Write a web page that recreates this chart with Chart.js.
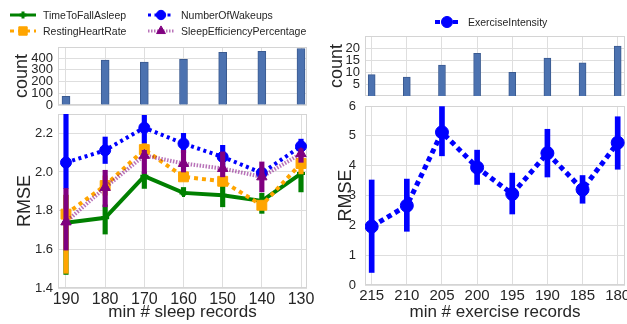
<!DOCTYPE html>
<html lang="en">
<head>
<meta charset="UTF-8">
<title>RMSE vs minimum number of records</title>
<script src="https://cdn.jsdelivr.net/npm/chart.js@4.4.1/dist/chart.umd.min.js"></script>
<style>
    html, body { margin: 0; padding: 0; background: #fff; }
    body {
        width: 627px;
        height: 324px;
        overflow: hidden;
        position: relative;
        font-family: 'Liberation Sans', Arial, sans-serif;
    }
    canvas.chart { position: absolute; }
    #sleepCount { left: 0; top: 0; }
    #sleepRmse { left: 0; top: 105px; }
    #exerciseCount { left: 320px; top: 0; }
    #exerciseRmse { left: 320px; top: 96px; }
    .key {
        position: absolute;
        height: 14px;
        display: flex;
        align-items: center;
        white-space: nowrap;
        font-size: 10.5px;
        color: #262626;
    }
    .key canvas { display: block; }
</style>
</head>
<body>
<canvas class="chart" id="sleepCount" width="320" height="115"></canvas>
<canvas class="chart" id="sleepRmse" width="320" height="219"></canvas>
<canvas class="chart" id="exerciseCount" width="320" height="100"></canvas>
<canvas class="chart" id="exerciseRmse" width="320" height="228"></canvas>
<div id="legends"></div>

<script>
// ---- sleep panel data ----
const sleepRecords = [190, 180, 170, 160, 150, 140, 130];
const sleepCounts = [75, 383, 366, 389, 449, 457, 482];
const sleepCountTicks = [0, 100, 200, 300, 400];
const sleepRmseTicks = [1.4, 1.6, 1.8, 2.0, 2.2];

const timeToFallAsleep     = [1.737, 1.763, 1.978, 1.892, 1.880, 1.850, 1.992];
const timeToFallAsleepLow  = [1.470, 1.679, 1.915, 1.880, 1.820, 1.786, 1.897];
const timeToFallAsleepHigh = [1.880, 1.830, 2.000, 1.920, 1.950, 1.890, 2.000];

const restingHeartRate     = [1.782, 1.930, 2.116, 1.975, 1.952, 1.828, 2.044];
const restingHeartRateLow  = [1.476, 1.880, 2.080, 1.955, 1.930, 1.810, 1.990];
const restingHeartRateHigh = [1.880, 1.980, 2.150, 1.995, 1.975, 1.845, 2.090];

const numberOfWakeups     = [2.049, 2.112, 2.229, 2.147, 2.078, 1.995, 2.133];
const numberOfWakeupsLow  = [1.915, 2.044, 2.150, 2.100, 2.020, 1.970, 2.100];
const numberOfWakeupsHigh = [2.350, 2.181, 2.293, 2.200, 2.138, 2.020, 2.170];

const sleepEfficiency     = [1.742, 1.920, 2.086, 2.044, 2.018, 1.975, 2.095];
const sleepEfficiencyLow  = [1.596, 1.820, 1.992, 2.000, 1.975, 1.897, 2.050];
const sleepEfficiencyHigh = [1.915, 2.009, 2.112, 2.112, 2.104, 2.052, 2.120];

// ---- exercise panel data ----
const exerciseRecords = [215, 210, 205, 200, 195, 190, 185, 180];
const exerciseCounts = [9, 8, 13, 18, 10, 16, 14, 21];
const exerciseCountTicks = [5, 10, 15, 20];
const exerciseRmseTicks = [0, 1, 2, 3, 4, 5, 6];

const exerciseIntensity     = [1.96, 2.66, 5.12, 3.94, 3.05, 4.42, 3.20, 4.77];
const exerciseIntensityLow  = [0.42, 1.80, 4.33, 3.37, 2.38, 3.62, 2.74, 3.88];
const exerciseIntensityHigh = [3.52, 3.55, 5.98, 4.52, 3.75, 5.22, 3.67, 5.64];

// ---- styles ----
Chart.defaults.font.family = "'Liberation Sans', Arial, sans-serif";
Chart.defaults.color = '#262626';

const gridColor = '#dedede';
const barFill = '#4c72b0';
const barEdge = '#3a5a90';

const styles = {
    TimeToFallAsleep:          { color: '#008000', line: '#008000', width: 4, dash: [], marker: 'cross', radius: 4 },
    RestingHeartRate:          { color: '#ffa500', line: '#ffa500', width: 4, dash: [4, 4], marker: 'rect', radius: 7 },
    NumberOfWakeups:           { color: '#0000ff', line: '#0000ff', width: 4, dash: [3, 3.5], marker: 'circle', radius: 5.5 },
    SleepEfficiencyPercentage: { color: '#800080', line: 'rgba(128,0,128,0.55)', width: 4, dash: [1.5, 1.5], marker: 'triangle', radius: 6 },
    ExerciseIntensity:         { color: '#0000ff', line: '#0000ff', width: 5, dash: [5, 4], marker: 'circle', radius: 6.5 }
};

const sleepSeries = [
    { name: 'TimeToFallAsleep', values: timeToFallAsleep, low: timeToFallAsleepLow, high: timeToFallAsleepHigh },
    { name: 'RestingHeartRate', values: restingHeartRate, low: restingHeartRateLow, high: restingHeartRateHigh },
    { name: 'NumberOfWakeups', values: numberOfWakeups, low: numberOfWakeupsLow, high: numberOfWakeupsHigh },
    { name: 'SleepEfficiencyPercentage', values: sleepEfficiency, low: sleepEfficiencyLow, high: sleepEfficiencyHigh }
];
const exerciseSeries = [
    { name: 'ExerciseIntensity', values: exerciseIntensity, low: exerciseIntensityLow, high: exerciseIntensityHigh }
];

// light box round every plot area
const framePlugin = {
    id: 'frame',
    beforeDatasetsDraw(chart) {
        const a = chart.chartArea, ctx = chart.ctx;
        ctx.save();
        ctx.strokeStyle = '#d4d4d4';
        ctx.lineWidth = 1;
        ctx.strokeRect(Math.round(a.left) + 0.5, Math.round(a.top) + 0.5, Math.round(a.width) - 1, Math.round(a.height) - 1);
        ctx.restore();
    }
};

function pinTicks(values) {
    return scale => { scale.ticks = values.map(v => ({ value: v })); };
}
function pinWidth(w) {
    return scale => { scale.width = w; scale.paddingTop = 0; scale.paddingBottom = 0; };
}
function pinHeight(h) {
    return scale => { scale.height = h; scale.paddingLeft = 0; scale.paddingRight = 0; };
}

function recordAxis(min, max, records, height, title, tickSize) {
    return {
        type: 'linear', min: min, max: max, reverse: true, offset: false,
        afterBuildTicks: pinTicks(records),
        afterFit: pinHeight(height),
        grid: { color: gridColor, drawTicks: false, offset: false },
        border: { display: false },
        ticks: { display: !!title, font: { size: tickSize }, padding: 2, maxRotation: 0, autoSkip: false, callback: v => String(v) },
        title: { display: !!title, text: title, font: { size: 17 }, padding: { top: 0, bottom: 1 } }
    };
}

function valueAxis(min, max, ticks, width, title, titlePad, tickPad, decimals) {
    return {
        min: min, max: max,
        afterBuildTicks: pinTicks(ticks),
        afterFit: pinWidth(width),
        grid: { color: gridColor, drawTicks: false },
        border: { display: false },
        ticks: { font: { size: 13 }, padding: tickPad, autoSkip: false, callback: v => v.toFixed(decimals) },
        title: { display: true, text: title, font: { size: 18 }, padding: { top: titlePad, bottom: 0 } }
    };
}

function baseOptions(padding) {
    return {
        responsive: false,
        animation: false,
        devicePixelRatio: 1,
        layout: { padding: padding },
        plugins: { legend: { display: false }, tooltip: { enabled: false } }
    };
}

function countChart(id, records, counts, xRange, yMax, ticks, padding, yWidth, titlePad, barWidth) {
    const options = baseOptions(padding);
    options.scales = {
        x: recordAxis(xRange[0], xRange[1], records, 0, '', 0),
        y: valueAxis(0, yMax, ticks, yWidth, 'count', titlePad, 5, 0)
    };
    return new Chart(document.getElementById(id), {
        type: 'bar',
        data: {
            datasets: [{
                data: records.map((r, i) => ({ x: r, y: counts[i] })),
                backgroundColor: barFill,
                borderColor: barEdge,
                borderWidth: 1,
                barThickness: barWidth
            }]
        },
        options: options,
        plugins: [framePlugin]
    });
}

function rmseDatasets(records, series, errWidth) {
    const sets = [];
    series.forEach((s, k) => {
        const st = styles[s.name];
        sets.push({
            type: 'bar',
            data: records.map((r, i) => ({ x: r, y: [s.low[i], s.high[i]] })),
            backgroundColor: st.color,
            borderWidth: 0,
            barThickness: errWidth,
            grouped: false,
            clip: 0,
            order: 100 - k * 20
        });
        sets.push({
            type: 'line',
            label: s.name,
            data: records.map((r, i) => ({ x: r, y: s.values[i] })),
            borderColor: st.line,
            borderWidth: st.width,
            borderDash: st.dash,
            borderCapStyle: 'butt',
            tension: 0,
            fill: false,
            pointStyle: st.marker,
            pointRadius: st.radius,
            pointBackgroundColor: st.color,
            pointBorderColor: st.color,
            pointBorderWidth: st.marker === 'cross' ? 3 : 1,
            order: 90 - k * 20
        });
    });
    return sets;
}

function rmseChart(id, records, series, xRange, yRange, ticks, padding, yWidth, xHeight, xTitle, xTickSize, titlePad, tickPad, errWidth) {
    const options = baseOptions(padding);
    options.scales = {
        x: recordAxis(xRange[0], xRange[1], records, xHeight, xTitle, xTickSize),
        y: valueAxis(yRange[0], yRange[1], ticks, yWidth, 'RMSE', titlePad, tickPad, ticks[1] - ticks[0] < 1 ? 1 : 0)
    };
    return new Chart(document.getElementById(id), {
        type: 'line',
        data: { datasets: rmseDatasets(records, series, errWidth) },
        options: options,
        plugins: [framePlugin]
    });
}

countChart('sleepCount', sleepRecords, sleepCounts, [128.47, 192.04], 495, sleepCountTicks,
    { left: 0, right: 13, top: 47, bottom: 10 }, 58, 11, 8);
rmseChart('sleepRmse', sleepRecords, sleepSeries, [128.47, 192.04], [1.4, 2.3], sleepRmseTicks,
    { left: 0, right: 13, top: 9, bottom: 0 }, 58, 36, 'min # sleep records', 16, 14, 5, 4.5);

countChart('exerciseCount', exerciseRecords, exerciseCounts, [178.96, 215.95], 25.3, exerciseCountTicks,
    { left: 0, right: 15, top: 36, bottom: 4 }, 45, 6, 7);
rmseChart('exerciseRmse', exerciseRecords, exerciseSeries, [178.96, 215.95], [0, 6], exerciseRmseTicks,
    { left: 0, right: 15, top: 10, bottom: 0 }, 45, 39, 'min # exercise records', 15, 15, 9, 5);

// ---- legends (line + marker symbol, as in the source figure) ----
function drawSymbol(cv, st) {
    const ctx = cv.getContext('2d');
    const cy = cv.height / 2;
    ctx.strokeStyle = st.line;
    ctx.lineWidth = st.width - 1;
    ctx.setLineDash(st.dash);
    ctx.beginPath();
    ctx.moveTo(0, cy);
    ctx.lineTo(cv.width, cy);
    ctx.stroke();
    ctx.setLineDash([]);
    ctx.fillStyle = st.color;
    ctx.strokeStyle = st.color;
    ctx.lineWidth = st.marker === 'cross' ? 3 : 1;
    Chart.helpers.drawPoint(ctx, { pointStyle: st.marker, radius: st.radius * 0.85, borderWidth: ctx.lineWidth, rotation: 0 }, cv.width / 2, cy);
}

function addKey(name, left, cy, symWidth, gap) {
    const item = document.createElement('div');
    item.className = 'key';
    item.style.left = left + 'px';
    item.style.top = (cy - 7) + 'px';
    const cv = document.createElement('canvas');
    cv.width = symWidth;
    cv.height = 14;
    cv.style.marginRight = gap + 'px';
    drawSymbol(cv, styles[name]);
    item.appendChild(cv);
    const label = document.createElement('span');
    label.textContent = name;
    item.appendChild(label);
    document.getElementById('legends').appendChild(item);
}

// two columns, filled column by column
const keyCols = [10, 148], keyRows = [15, 31];
sleepSeries.forEach((s, k) => {
    addKey(s.name, keyCols[Math.floor(k / 2)], keyRows[k % 2], 26, 7);
});
addKey(exerciseSeries[0].name, 435, 22, 24, 9);
</script>
</body>
</html>
